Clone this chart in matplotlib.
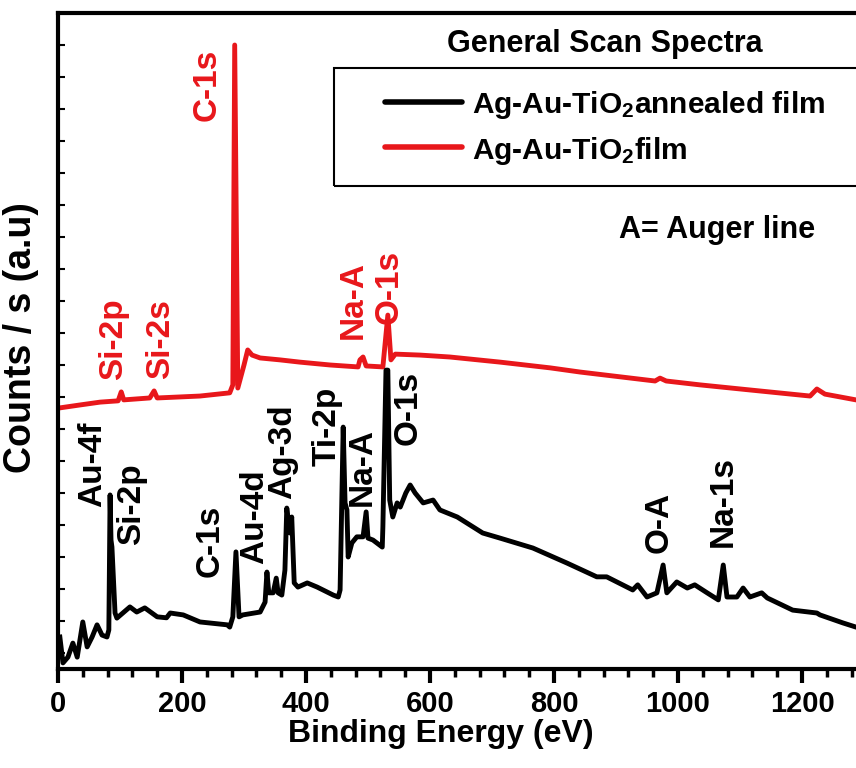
import matplotlib
matplotlib.use("Agg")
import matplotlib.pyplot as plt
from matplotlib.patches import Rectangle
from matplotlib.lines import Line2D
from matplotlib.ticker import MultipleLocator

# Ag-Au-TiO2 annealed film (black)
annealed_energy = [3, 8, 16, 24, 31, 40, 47, 55, 63, 71, 79, 82, 84, 85.5, 87, 92, 95,
                   116, 127, 140, 160, 175, 181, 202, 229, 273, 277, 282, 287, 292, 298, 326, 334,
                   337, 340, 347, 352, 355, 361, 366, 369, 374, 377, 381, 387, 402, 418,
                   444, 452, 455, 460, 463, 466, 468, 474, 482, 492, 497, 500, 508, 523,
                   524, 529, 532, 535, 540, 547, 552, 561, 568, 576, 589, 605, 616, 644,
                   685, 713, 766, 821, 869, 885, 927, 935, 950, 966, 976, 982, 998, 1015,
                   1027, 1047, 1065, 1073, 1079, 1095, 1105, 1116, 1135, 1144, 1185, 1224,
                   1229, 1266, 1287, 1300]
annealed_counts = [5.0, -3.1, -1.3, 3.1, -1.3, 9.7, 1.9, 5.0, 8.8, 5.6, 5.0, 7.2, 49.4, 35.3,
                   33.1, 12.5, 10.9, 14.4, 12.8, 14.1, 11.3, 11.0, 12.5, 11.9, 9.7, 8.8, 8.1, 11.3, 31.6,
                   11.3, 11.9, 12.8, 15.9, 25.3, 18.8, 18.8, 23.4, 18.8, 18.1, 25.9, 45.3,
                   37.5, 42.5, 21.9, 20.6, 21.9, 20.6, 18.1, 17.5, 19.7, 70.6, 46.9, 44.7,
                   30.0, 34.4, 36.3, 36.3, 44.1, 35.9, 35.3, 33.1, 39.4, 88.4, 88.4, 47.8,
                   42.5, 46.9, 45.6, 50.0, 52.5, 50.0, 46.9, 47.8, 44.7, 42.5, 37.5, 35.9,
                   32.8, 28.1, 23.8, 23.8, 19.7, 21.3, 17.5, 18.8, 27.5, 18.8, 22.2, 20.3,
                   21.3, 18.8, 16.6, 27.5, 17.5, 17.5, 20.3, 17.5, 18.8, 17.2, 13.4, 12.5,
                   11.9, 9.4, 8.1, 7.6]

# Ag-Au-TiO2 film (red)
film_energy = [3, 35, 68, 97, 102, 106, 148, 155, 160, 229, 277, 282, 285, 290, 300, 306,
               313, 326, 358, 390, 439, 484, 487, 492, 497, 524, 532, 537, 544, 584, 632,
               713, 794, 842, 963, 971, 981, 1035, 1116, 1213, 1224, 1237, 1287, 1300]
film_counts = [76.6, 77.5, 78.4, 78.8, 81.6, 79.1, 79.7, 81.9, 79.7, 80.3, 81.3, 83.8, 190.0,
               82.8, 90.0, 94.7, 93.1, 92.2, 91.6, 90.9, 90.0, 89.4, 91.6, 92.5, 89.7, 89.4,
               105.6, 91.6, 93.4, 93.1, 92.5, 90.9, 89.1, 87.8, 85.0, 85.9, 85.0, 83.8, 82.2,
               80.3, 82.5, 80.9, 79.1, 78.9]

x_ticks = [0, 200, 400, 600, 800, 1000, 1200]

film_peaks = ["C-1s", "Si-2p", "Si-2s", "Na-A", "O-1s"]
film_peak_pos = [(240, 177.5), (90, 98.1), (165, 98.1), (476, 110.3), (534, 114.4)]
annealed_peaks = ["Au-4f", "Si-2p", "C-1s", "Au-4d", "Ag-3d", "Ti-2p", "Na-A", "O-1s", "O-A", "Na-1s"]
annealed_peak_pos = [(56, 59.1), (119, 46.6), (245, 35.0), (318, 42.5), (363, 62.8),
                     (434, 70.9), (490, 58.1), (565, 76.6), (969, 40.9), (1073, 47.2)]

RED = '#e8171b'

plt.rcParams['font.family'] = ['Liberation Sans', 'DejaVu Sans']
plt.rcParams['font.weight'] = 'bold'
plt.rcParams['mathtext.fontset'] = 'custom'
plt.rcParams['mathtext.rm'] = 'Liberation Sans:bold'
plt.rcParams['mathtext.default'] = 'rm'

W, H = 856, 768
fig = plt.figure(figsize=(W / 100, H / 100), dpi=100)
# axes runs past the right edge of the figure (the original image is cropped)
ax = fig.add_axes([58 / W, 1 - 669 / H, 868 / W, 656 / H])

ax.plot(film_energy, film_counts, color=RED, lw=3.5, solid_joinstyle='round')
ax.plot(annealed_energy, annealed_counts, color='black', lw=3.5, solid_joinstyle='round')

for name, (x, y) in zip(film_peaks, film_peak_pos):
    ax.text(x, y, name, rotation=90, ha='center', va='center',
            fontsize=24, fontweight='bold', color=RED)
for name, (x, y) in zip(annealed_peaks, annealed_peak_pos):
    ax.text(x, y, name, rotation=90, ha='center', va='center',
            fontsize=24, fontweight='bold', color='black')

ax.set_xlim(0, 1400)
ax.set_ylim(-5, 200)
ax.set_xticks(x_ticks)
ax.xaxis.set_minor_locator(MultipleLocator(40))
ax.yaxis.set_major_locator(MultipleLocator(10))
ax.tick_params(axis='x', which='major', direction='out', length=10, width=3,
               labelsize=21, pad=5)
ax.tick_params(axis='x', which='minor', direction='out', length=6, width=2.5)
ax.tick_params(axis='y', which='major', direction='in', length=5, width=1.5,
               labelleft=False)
for lbl in ax.get_xticklabels():
    lbl.set_fontweight('bold')
for s in ax.spines.values():
    s.set_linewidth(3)

ax.set_xlabel('Binding Energy (eV)', fontsize=23, fontweight='bold')
ax.xaxis.set_label_coords((441 - 58) / 868, -0.076)
ax.set_ylabel('Counts / s (a.u)', fontsize=27, fontweight='bold')
ax.yaxis.set_label_coords(-0.022, 0.505)

fig.text(605 / W, 1 - 44 / H, 'General Scan Spectra', ha='center', va='center',
         fontsize=22, fontweight='bold')
fig.text(717 / W, 1 - 230 / H, 'A= Auger line', ha='center', va='center',
         fontsize=22, fontweight='bold')

# legend box
fig.patches.append(Rectangle((334 / W, 1 - 186 / H), 540 / W, 118 / H,
                             transform=fig.transFigure, fill=False, lw=1.5,
                             edgecolor='black'))
fig.lines.append(Line2D([385 / W, 462 / W], [1 - 102 / H] * 2, transform=fig.transFigure,
                        color='black', lw=4, solid_capstyle='round'))
fig.lines.append(Line2D([385 / W, 462 / W], [1 - 147 / H] * 2, transform=fig.transFigure,
                        color=RED, lw=4, solid_capstyle='round'))
fig.text(472 / W, 1 - 113 / H, r'Ag-Au-TiO$_2$annealed film', ha='left', va='baseline',
         fontsize=21.5, fontweight='bold')
fig.text(472 / W, 1 - 159 / H, r'Ag-Au-TiO$_2$film', ha='left', va='baseline',
         fontsize=21.5, fontweight='bold')

fig.savefig('out.png', dpi=100, facecolor='white')
